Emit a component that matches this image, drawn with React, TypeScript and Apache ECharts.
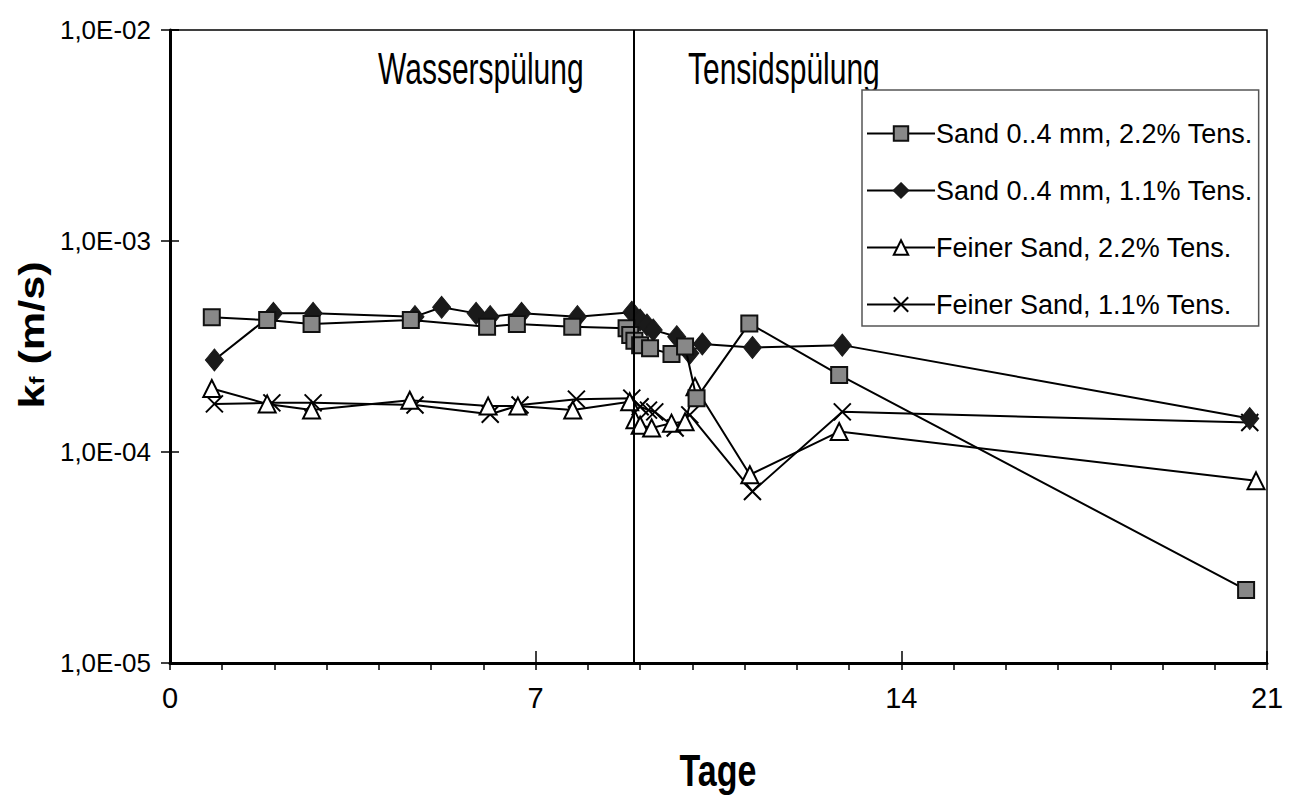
import React, { useEffect, useRef } from "react";
import * as echarts from "echarts";

const seriesNames = [
  "Sand 0..4 mm, 2.2% Tens.",
  "Sand 0..4 mm, 1.1% Tens.",
  "Feiner Sand, 2.2% Tens.",
  "Feiner Sand, 1.1% Tens.",
];

const sand22: [number, number][] = [
  [0.8, 4.35e-4], [1.86, 4.22e-4], [2.71, 4.04e-4], [4.61, 4.22e-4], [6.07, 3.92e-4],
  [6.64, 4.04e-4], [7.7, 3.92e-4], [8.74, 3.86e-4], [8.81, 3.59e-4], [8.89, 3.37e-4],
  [9.0, 3.21e-4], [9.19, 3.1e-4], [9.6, 2.91e-4], [9.86, 3.16e-4], [10.08, 1.8e-4],
  [11.09, 4.07e-4], [12.81, 2.32e-4], [20.6, 2.22e-5],
];

const sand11: [number, number][] = [
  [0.85, 2.73e-4], [1.98, 4.54e-4], [2.74, 4.54e-4], [4.69, 4.38e-4], [5.2, 4.85e-4],
  [5.86, 4.54e-4], [6.13, 4.38e-4], [6.73, 4.54e-4], [7.8, 4.38e-4], [8.84, 4.6e-4],
  [9.0, 4.22e-4], [9.13, 4.0e-4], [9.25, 3.79e-4], [9.7, 3.52e-4], [9.95, 2.94e-4],
  [10.19, 3.25e-4], [11.15, 3.13e-4], [12.87, 3.21e-4], [20.67, 1.44e-4],
];

const fein22: [number, number][] = [
  [0.8, 2.0e-4], [1.86, 1.69e-4], [2.71, 1.58e-4], [4.59, 1.76e-4], [6.09, 1.65e-4],
  [6.66, 1.65e-4], [7.71, 1.58e-4], [8.8, 1.73e-4], [8.9, 1.42e-4], [9.0, 1.34e-4],
  [9.22, 1.3e-4], [9.6, 1.37e-4], [9.86, 1.39e-4], [10.05, 2.04e-4], [11.1, 7.8e-5],
  [12.81, 1.25e-4], [20.79, 7.3e-5],
];

const fein11: [number, number][] = [
  [0.85, 1.69e-4], [1.95, 1.71e-4], [2.74, 1.71e-4], [4.69, 1.67e-4], [6.13, 1.51e-4],
  [6.7, 1.67e-4], [7.78, 1.78e-4], [8.84, 1.8e-4], [9.0, 1.64e-4], [9.16, 1.58e-4],
  [9.28, 1.55e-4], [9.67, 1.3e-4], [9.95, 1.5e-4], [11.15, 6.5e-5], [12.87, 1.55e-4],
  [20.67, 1.38e-4],
];

const phaseBoundary = 8.88;
const phaseLabels = ["Wasserspülung", "Tensidspülung"];
const xTickLabels = [0, 7, 14, 21];
const xTitle = "Tage";

const FONT = "'Liberation Sans', Arial, Helvetica, sans-serif";

export default function App() {
  const ref = useRef<HTMLDivElement>(null);
  useEffect(() => {
    if (!ref.current) return;
    const chart = echarts.init(ref.current, null, { renderer: "svg" });
    const baseLine = { color: "#000", width: 2 };
    const option: any = {
      animation: false,
      backgroundColor: "#fff",
      textStyle: { fontFamily: FONT },
      grid: {
        left: 170, right: 25, top: 30, bottom: 137,
        show: true, borderColor: "#000", borderWidth: 1.5,
      },
      xAxis: [
        {
          type: "value", min: 0, max: 21, interval: 1,
          axisLine: { lineStyle: { color: "#000", width: 3 } },
          axisTick: { length: 7, lineStyle: { color: "#000", width: 1.5 } },
          splitLine: { show: false },
          axisLabel: {
            color: "#000", fontSize: 29, fontFamily: FONT, margin: 20,
            formatter: (v: number) => (xTickLabels.includes(v) ? String(v) : ""),
          },
        },
        {
          type: "value", min: 0, max: 21, interval: 7, position: "bottom",
          axisLine: { show: false },
          axisTick: { inside: true, length: 12, lineStyle: { color: "#000", width: 1.5 } },
          axisLabel: { show: false }, splitLine: { show: false },
        },
      ],
      yAxis: [
        {
          type: "log", logBase: 10, min: 1e-5, max: 1e-2,
          axisLine: { show: true, lineStyle: { color: "#000", width: 3 } },
          axisTick: { show: true, length: 9, lineStyle: { color: "#000", width: 1.5 } },
          splitLine: { show: false },
          minorTick: { show: false },
          axisLabel: {
            color: "#000", fontSize: 26, fontFamily: FONT, margin: 19,
            formatter: (v: number) => {
              const e = Math.round(Math.log10(v));
              return "1,0E-" + String(-e).padStart(2, "0");
            },
          },
        },
        {
          type: "log", logBase: 10, min: 1e-5, max: 1e-2, position: "left",
          axisLine: { show: false },
          axisTick: { show: true, inside: true, length: 9, lineStyle: { color: "#000", width: 1.5 } },
          axisLabel: { show: false }, splitLine: { show: false },
        },
      ],
      legend: {
        orient: "vertical",
        left: 862, top: 90,
        backgroundColor: "#fff", borderColor: "#555", borderWidth: 1.5,
        padding: [30, 6, 8, 4],
        itemWidth: 68, itemHeight: 18, itemGap: 30,
        textStyle: { color: "#000", fontSize: 27, fontFamily: FONT, padding: [0, 0, 0, -4] },
        data: seriesNames,
      },
      series: [
        {
          name: seriesNames[0], type: "line", data: sand22,
          symbol: "rect", symbolSize: 16,
          itemStyle: { color: "#888", borderColor: "#111", borderWidth: 2 },
          lineStyle: baseLine, z: 4,
          markLine: {
            silent: true, symbol: ["none", "none"], label: { show: false },
            lineStyle: { color: "#000", width: 2, type: "solid" },
            data: [{ xAxis: phaseBoundary }],
          },
        },
        {
          name: seriesNames[1], type: "line", data: sand11,
          symbol: "diamond", symbolSize: [18, 22],
          itemStyle: { color: "#1a1a1a", borderColor: "#1a1a1a", borderWidth: 1 },
          lineStyle: baseLine, z: 3,
        },
        {
          name: seriesNames[2], type: "line", data: fein22,
          symbol: "triangle", symbolSize: 17,
          itemStyle: { color: "#fff", borderColor: "#000", borderWidth: 2 },
          lineStyle: baseLine, z: 2,
        },
        {
          name: seriesNames[3], type: "line", data: fein11,
          symbol: "path://M0,0L10,10M10,0L0,10", symbolSize: 17,
          itemStyle: { color: "none", borderColor: "#000", borderWidth: 2 },
          lineStyle: baseLine, z: 1,
        },
      ],
      graphic: [
        {
          type: "text", x: 378, y: 69, scaleY: 1.45,
          style: { text: phaseLabels[0], fontSize: 30, fontFamily: FONT, fill: "#000", align: "left", verticalAlign: "middle" },
        },
        {
          type: "text", x: 688, y: 69, scaleY: 1.45,
          style: { text: phaseLabels[1], fontSize: 30, fontFamily: FONT, fill: "#000", align: "left", verticalAlign: "middle" },
        },
        {
          type: "text", x: 718, y: 770, scaleY: 1.3,
          style: { text: xTitle, fontSize: 34, fontWeight: "bold", fontFamily: FONT, fill: "#000", align: "center", verticalAlign: "middle" },
        },
        {
          type: "text", x: 31, y: 335, rotation: Math.PI / 2, scaleX: 1.2,
          style: {
            text: "{k|k}{f|f}{r| (m/s)}", align: "center", verticalAlign: "middle",
            rich: {
              k: { fontSize: 36, fontWeight: "bold", fill: "#000", fontFamily: FONT },
              f: { fontSize: 20, fontWeight: "bold", fill: "#000", fontFamily: FONT, padding: [12, 0, 0, 0] },
              r: { fontSize: 36, fontWeight: "bold", fill: "#000", fontFamily: FONT },
            },
          },
        },
      ],
    };
    chart.setOption(option);
    return () => chart.dispose();
  }, []);
  return <div ref={ref} style={{ width: 1292, height: 800, position: "absolute", left: 0, top: 0 }} />;
}
